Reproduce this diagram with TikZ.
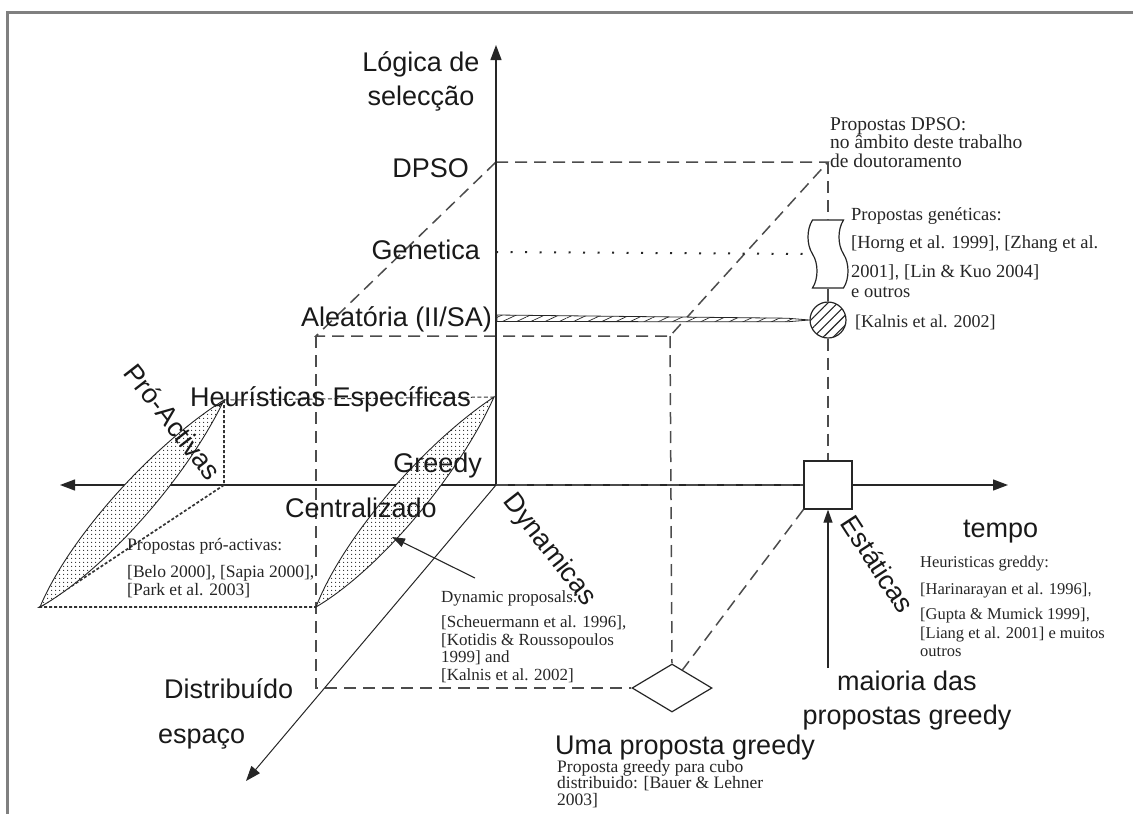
\documentclass[tikz,border=0pt]{standalone}
\usepackage{fontspec}
\setmainfont{Liberation Serif}
\newfontfamily\arialfont{Liberation Sans}
\usetikzlibrary{arrows.meta,calc,patterns.meta,shapes.geometric,shapes.symbols}

\begin{document}
\begin{tikzpicture}[
    x=1pt, y=-1pt,
    rotulo/.style={font=\arialfont\fontsize{27}{34}\selectfont, inner sep=0pt, text=black!90},
    refs/.style={font=\fontsize{#1}{18.5}\selectfont, inner sep=0pt, align=left, anchor=north west, text=black!85},
    refs/.default=16.5,
    aresta/.style={draw=black!70, line width=1.5pt, dash pattern=on 12pt off 7pt},
    eixo/.style={draw=black!85, line width=1.3pt, -{Triangle[length=15pt,width=11pt]}},
    pontos/.style={draw=black!80, line width=1.7pt, dash pattern=on 3pt off 2pt},
    lente/.style={draw=black!85, line width=0.9pt, preaction={fill=white}, pattern color=black!85, pattern={Dots[distance=4pt,radius=0.7pt]}},
    caixa/.style={draw=black!85, line width=1.2pt, fill=white, inner sep=0pt},
    seta/.style={draw=black!85, line width=1.1pt, -{Triangle[length=13pt,width=9pt]}}
]
\useasboundingbox (0,0) rectangle (1133,814);
\draw[black!50, line width=3pt] (7.5,814) -- (7.5,12) -- (1133,12);

\coordinate (origem) at (496,485);
\coordinate (topoY) at (496,45);
\coordinate (inicioX) at (60,485);
\coordinate (fimX) at (1008,485);
\coordinate (fimZ) at (246,781);
\coordinate (dpso) at (496,162);
\coordinate (dpsoT) at (828,162);
\coordinate (frenteA) at (316,336);
\coordinate (frenteB) at (670,336);
\coordinate (frenteC) at (316,688);
\coordinate (genetica) at (496,252);
\coordinate (aleat) at (496,318);
\coordinate (heurD) at (494,397);
\coordinate (heurE) at (224,400);
\coordinate (cantoE) at (224,485);
\coordinate (baseD) at (316,607);
\coordinate (baseE) at (40,607);
\coordinate (setaDin) at (475,578);
\coordinate (alvoDin) at (392,537);
\coordinate (baseMaioria) at (828,668);

\node[caixa, minimum size=48pt] (estaticas) at (828,485) {};
\node[caixa, diamond, minimum width=80pt, minimum height=48pt] (distrib) at (672,688) {};
\node[caixa, tape, rotate=90, minimum width=68pt, minimum height=40pt, tape bend height=9pt] (onda) at (828,254) {};
\node[caixa, circle, minimum size=36pt, pattern color=black!85,
      postaction={pattern={Lines[angle=45,distance=7pt,line width=1.1pt]}}] (aleatoria) at (828,320) {};

\draw[aresta] (dpso) -- (dpsoT) -- (frenteB) -- (frenteA) -- cycle;
\draw[aresta] (frenteA) -- (frenteC) -- (distrib.west);
\draw[aresta] (frenteB) -- (distrib.north);
\draw[aresta] (dpsoT) -- (onda.east) (onda.west) -- (aleatoria.north) (aleatoria.south) -- (estaticas.north);
\draw[aresta] (estaticas.south west) -- (distrib.60);

\draw[eixo] (origem) -- (topoY);
\draw[eixo] (origem) -- (inicioX);
\draw[eixo] (estaticas.east) -- (fimX);
\draw[draw=black!85, line width=1.3pt] (origem) -- (estaticas.west);
\draw[aresta] (origem) -- (estaticas.west);
\draw[eixo, line width=1pt] (origem) -- (fimZ);

\draw[black!85, line width=2pt, dash pattern=on 2pt off 12.5pt] (genetica) -- (onda.north);
\draw[black!80, line width=1pt, dash pattern=on 4pt off 2.5pt] (heurE) -- (heurD);
\draw[black!85, line width=0.8pt, preaction={fill=white}, pattern color=black!85,
      pattern={Lines[angle=25,distance=6pt,line width=0.7pt]}]
    ($(aleat)+(1,-3)$) -- ($(aleatoria.west)+(-22,-1.8)$) -- (aleatoria.west)
    -- ($(aleatoria.west)+(-22,1.8)$) -- ($(aleat)+(1,3.5)$) -- cycle;

\draw[pontos] (heurE) -- (cantoE) -- (baseE) -- (baseD);
\draw[lente] (heurE) .. controls ($(heurE)!.3!(baseE)!24pt!90:(baseE)$) and ($(heurE)!.75!(baseE)!24pt!90:(baseE)$) .. (baseE)
    .. controls ($(heurE)!.75!(baseE)!24pt!-90:(baseE)$) and ($(heurE)!.3!(baseE)!24pt!-90:(baseE)$) .. (heurE) -- cycle;
\draw[lente] (heurD) .. controls ($(heurD)!.3!(baseD)!24pt!90:(baseD)$) and ($(heurD)!.75!(baseD)!24pt!90:(baseD)$) .. (baseD)
    .. controls ($(heurD)!.75!(baseD)!24pt!-90:(baseD)$) and ($(heurD)!.3!(baseD)!24pt!-90:(baseD)$) .. (heurD) -- cycle;

\draw[seta] (setaDin) -- (alvoDin);
\draw[seta] (baseMaioria) -- (estaticas.south);

\node[rotulo, align=center] (logica) at (421,81) {Lógica de\\selecção};
\node[rotulo, anchor=base east] (lblDpso) at (469,177) {DPSO};
\node[rotulo, anchor=base east] (lblGen) at (480,259) {Genetica};
\node[rotulo, anchor=base east] (lblAleat) at (492,326) {Aleatória (II/SA)};
\node[rotulo, anchor=base east] (lblHeur) at (471,406) {Heurísticas Específicas};
\node[rotulo, anchor=base east] (lblGreedy) at (482,472) {Greedy};
\node[rotulo, anchor=base west] (lblCentral) at (285,517) {Centralizado};
\node[rotulo, rotate=-52] (lblPro) at (173,422) {Pró-Activas};
\node[rotulo, rotate=-52] (lblDin) at (549,550) {Dynamicas};
\node[rotulo, rotate=-57] (lblEst) at (878,564) {Estáticas};
\node[rotulo, anchor=base west] (lblTempo) at (963,537) {tempo};
\node[rotulo, anchor=base west] (lblDist) at (164,698) {Distribuído};
\node[rotulo, anchor=base west] (lblEspaco) at (158,743) {espaço};
\node[rotulo, anchor=base west] (lblUma) at (555,754) {Uma proposta greedy};
\node[rotulo, align=center] (lblMaioria) at (907,701) {maioria das\\propostas greedy};

\node[refs=19.5] (refDpso) at (830,117) {Propostas DPSO:\\no âmbito deste trabalho\\de doutoramento};
\node[refs=18.5] (refGen) at (851,207) {Propostas genéticas:\\[9.5pt][Horng et al. 1999]{\arialfont,} [Zhang et al.\\[10.5pt]2001]{\arialfont,} [Lin \& Kuo 2004]\\[1.5pt]e outros};
\node[refs=18, anchor=west] (refKalnis) at (855,322) {[Kalnis et al. 2002]};
\node[refs] (refHeur) at (920,556) {Heuristicas greddy:\\[8.5pt][Harinarayan et al. 1996]{\arialfont,}\\[6.5pt][Gupta \& Mumick 1999]{\arialfont,}\\{}[Liang et al. 2001] e muitos\\outros};
\node[refs=17.5] (refPro) at (127,538) {Propostas pró-activas:\\[8.5pt][Belo 2000], [Sapia 2000],\\{}[Park et al. 2003]};
\node[refs=17] (refDin) at (441,590) {Dynamic proposals:\\[6.5pt][Scheuermann et al. 1996],\\{}[Kotidis \& Roussopoulos\\[-2pt]1999] and\\{}[Kalnis et al. 2002]};
\node[refs=17.5] (refBauer) at (557,760) {Proposta greedy para cubo\\[-2pt]distribuido: [Bauer \& Lehner\\[-1.5pt]2003]};
\end{tikzpicture}
\end{document}
